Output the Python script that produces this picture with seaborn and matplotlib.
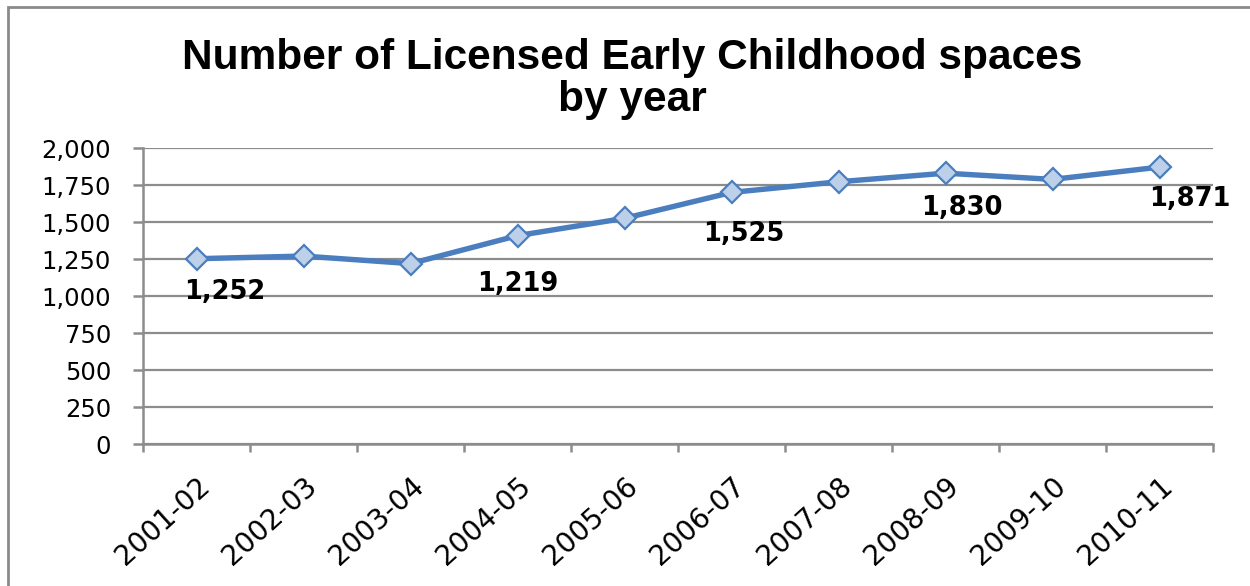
import numpy as np
import pandas as pd
import matplotlib
matplotlib.use("Agg")
import matplotlib.pyplot as plt
import matplotlib.patches as mpatches
import seaborn as sns

# data
years = ["2001-02", "2002-03", "2003-04", "2004-05", "2005-06",
         "2006-07", "2007-08", "2008-09", "2009-10", "2010-11"]
spaces = [1252, 1270, 1219, 1408, 1525, 1700, 1772, 1830, 1788, 1871]
labelled = [0, 2, 4, 7, 9]
y_ticks = [0, 250, 500, 750, 1000, 1250, 1500, 1750, 2000]

# label offsets (points), the Excel labels drift away from their points
label_offsets = [(20, -24), (77, -15), (86, -11), (12, -25), (22, -23)]

LINE = "#4A7EBF"
GRID = "#8C8C8C"

sns.set_style("white")
plt.rcParams["font.family"] = ["DejaVu Sans"]
plt.rcParams["text.color"] = "black"
plt.rcParams["xtick.labelcolor"] = "black"
plt.rcParams["ytick.labelcolor"] = "black"

df = pd.DataFrame({"year": years, "spaces": spaces})

fig = plt.figure(figsize=(12.5, 5.86), dpi=100)
ax = fig.add_axes([0.1144, 0.2423, 0.9704 - 0.1144, 0.7474 - 0.2423])

sns.lineplot(data=df, x="year", y="spaces", sort=False, ax=ax,
             color=LINE, linewidth=3.9, marker="D", markersize=11.5,
             markerfacecolor="#BCD0EA", markeredgecolor=LINE,
             markeredgewidth=1.6, zorder=3)

for i, (dx, dy) in zip(labelled, label_offsets):
    ax.annotate(f"{spaces[i]:,}", (i, spaces[i]), xytext=(dx, dy),
                textcoords="offset points", ha="center", va="center",
                fontsize=18.5, fontweight="bold", color="black", zorder=4)

ax.set_xlim(-0.5, len(years) - 0.5)
ax.set_ylim(0, 2000)
ax.set_yticks(y_ticks)
ax.set_yticklabels([f"{v:,}" for v in y_ticks])
ax.set_xticks(range(len(years)))
ax.set_xticklabels(years, rotation=42, ha="right", rotation_mode="anchor")
ax.set_xticks(np.arange(-0.5, len(years), 1.0), minor=True)
ax.tick_params(axis="x", which="major", length=0, pad=20, labelsize=20,
               labelcolor="black")
ax.tick_params(axis="x", which="minor", length=6, width=1.8, color=GRID,
               direction="out", bottom=True)
ax.tick_params(axis="y", length=7, width=1.8, color=GRID, pad=16,
               labelsize=17.5, left=True, labelcolor="black")
ax.set_xlabel("")
ax.set_ylabel("")

ax.grid(axis="y", color=GRID, linewidth=1.6)
ax.set_axisbelow(True)
for side in ["top", "right"]:
    ax.spines[side].set_visible(False)
for side in ["left", "bottom"]:
    ax.spines[side].set_color(GRID)
    ax.spines[side].set_linewidth(1.8)

fig.text(0.506, 0.865, "Number of Licensed Early Childhood spaces\nby year",
         ha="center", va="center", fontsize=30.5, fontweight="bold",
         family="Liberation Sans", linespacing=1.08, color="black")

# outer chart frame, cut off at right and bottom like the reference
frame = mpatches.Rectangle((8 / 1250, -0.1), 1.2, 1.1 - 7 / 586,
                           transform=fig.transFigure, fill=False,
                           edgecolor="#8A8A8A", linewidth=2)
fig.patches.append(frame)

fig.savefig("out.png", dpi=100)
